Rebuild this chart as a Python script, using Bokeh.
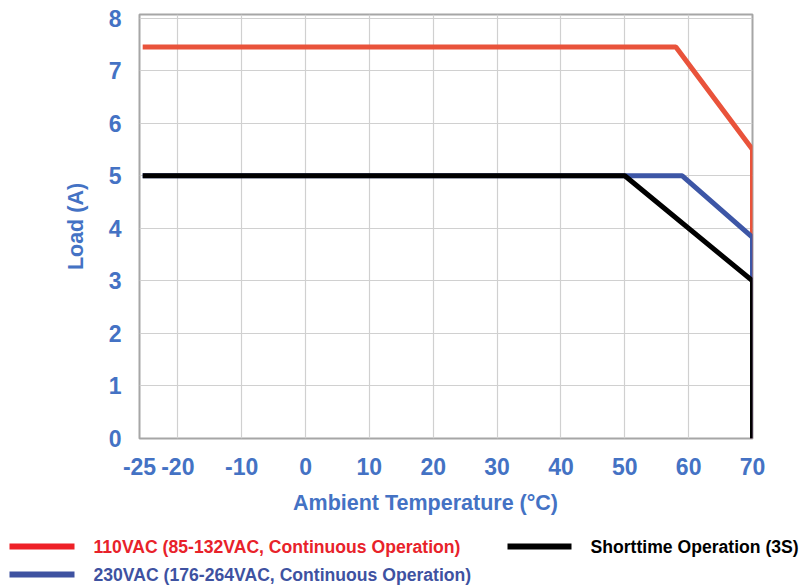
from bokeh.plotting import figure
from bokeh.models import FixedTicker, ColumnDataSource, Range1d
from bokeh.core.properties import value
from bokeh.embed import file_html
from bokeh.resources import INLINE

# ---- data ----
red_x = [-25.5, 58.0, 70.0, 70.0]
red_y = [7.45, 7.45, 5.5, 0.0]
blue_x = [-25.5, 59.0, 70.0, 70.0]
blue_y = [5.0, 5.0, 3.83, 0.0]
black_x = [-25.5, 50.0, 70.0, 70.0]
black_y = [5.0, 5.0, 3.0, 0.0]

x_ticks = [-26, -20, -10, 0, 10, 20, 30, 40, 50, 60, 70]
x_tick_labels = ["-25", "-20", "-10", "0", "10", "20", "30", "40", "50", "60", "70"]
y_ticks = [0, 1, 2, 3, 4, 5, 6, 7, 8]

series_names = [
    "110VAC (85-132VAC, Continuous Operation)",
    "230VAC (176-264VAC, Continuous Operation)",
    "Shorttime Operation (3S)",
]
x_title = "Ambient Temperature (°C)"
y_title = "Load (A)"

FONT = "Liberation Sans"
TICK_COLOR = "#4472C4"
W = 801
TOP_H = 486
BOT_H = 586 - TOP_H

p = figure(width=W, height=TOP_H, output_backend="svg", toolbar_location=None,
           x_range=(-26, 70), y_range=(0, 8.07),
           min_border_left=139, min_border_right=49, min_border_top=14, min_border_bottom=48)

p.outline_line_color = "#A6A6A6"
p.outline_line_width = 2

p.xaxis.ticker = FixedTicker(ticks=x_ticks)
p.xaxis.major_label_overrides = {t: l for t, l in zip(x_ticks, x_tick_labels)}
p.yaxis.ticker = FixedTicker(ticks=y_ticks)
for ax in (p.xaxis, p.yaxis):
    ax.axis_line_color = None
    ax.major_tick_line_color = None
    ax.minor_tick_line_color = None
    ax.major_tick_out = 0
    ax.major_tick_in = 0
    ax.major_label_text_font = FONT
    ax.major_label_text_font_style = "bold"
    ax.major_label_text_font_size = "23px"
    ax.major_label_text_color = TICK_COLOR
p.xaxis.major_label_standoff = 19
p.yaxis.major_label_standoff = 18

p.yaxis.axis_label = y_title
p.yaxis.axis_label_text_font = FONT
p.yaxis.axis_label_text_font_style = "bold"
p.yaxis.axis_label_text_font_size = "21.5px"
p.yaxis.axis_label_text_color = TICK_COLOR
p.yaxis.axis_label_standoff = 18

p.xgrid.ticker = FixedTicker(ticks=x_ticks)
p.ygrid.ticker = FixedTicker(ticks=y_ticks)
p.grid.grid_line_color = "#D0D0D0"
p.grid.grid_line_width = 1.2

p.line(red_x, red_y, line_color="#E9533B", line_width=5)
p.line(blue_x, blue_y, line_color="#3D56A6", line_width=5)
p.line(black_x, black_y, line_color="#000000", line_width=5)

# ---- bottom strip: x title + legend (separate root, no frame alignment) ----
q = figure(width=W, height=BOT_H, output_backend="svg", toolbar_location=None,
           x_range=Range1d(0, W), y_range=Range1d(BOT_H, 0),
           x_axis_type=None, y_axis_type=None,
           min_border_left=0, min_border_right=0, min_border_top=0, min_border_bottom=0)
q.outline_line_color = None

q.text(x=[425], y=[16], text=[x_title], text_align="center", text_baseline="middle",
       text_font=value(FONT), text_font_style="bold", text_font_size=value("21.5px"),
       text_color=TICK_COLOR)

leg = ColumnDataSource(dict(
    x0=[9, 9, 507], x1=[74, 74, 571], y=[60, 88, 60], tx=[93, 93, 590],
    text=series_names,
    lc=["#EE2127", "#3E52A1", "#000000"],
    tc=["#E8222A", "#3E52A1", "#000000"],
))
q.segment(x0="x0", y0="y", x1="x1", y1="y", line_color="lc", line_width=6, source=leg)
q.text(x="tx", y="y", text="text", text_color="tc", text_align="left", text_baseline="middle",
       text_font=value(FONT), text_font_style="bold", text_font_size=value("17.6px"), source=leg)

open("out.html", "w").write(file_html([p, q], INLINE))
